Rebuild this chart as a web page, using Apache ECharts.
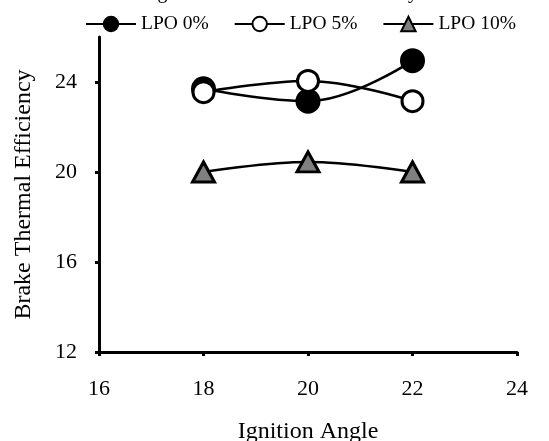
<!DOCTYPE html>
<html>
<head>
<meta charset="utf-8">
<script src="https://cdn.jsdelivr.net/npm/echarts@6/dist/echarts.min.js"></script>
<style>
  html, body { margin: 0; padding: 0; background: #fff; }
  #main { width: 549px; height: 441px; }
</style>
</head>
<body>
<div id="main"></div>
<script>
// 点火角 (x轴)
var angles = [18, 20, 22];
// 各系列数值
var lpo0 = [23.7, 23.15, 24.95];
var lpo5 = [23.55, 24.05, 23.15];
var lpo10 = [20.0, 20.45, 20.0];
var seriesNames = ['LPO 0%', 'LPO 5%', 'LPO 10%'];
var yTicks = [12, 16, 20, 24];

var font = '"Liberation Serif", "Times New Roman", serif';

function pairs(vals) {
  return angles.map(function (a, i) { return [a, vals[i]]; });
}

var myChart = echarts.init(document.getElementById('main'));

myChart.setOption({
  animation: false,
  title: { //上方被裁掉的标题，只露出下沿
    text: 'Angle vs Brake Thermal Efficiency',
    left: 128,
    top: -22,
    textStyle: { fontFamily: font, fontSize: 20, fontWeight: 'normal', color: '#000' }
  },
  legend: {
    top: 9,
    left: 80,
    itemWidth: 50,
    itemHeight: 18,
    itemGap: 25,
    data: seriesNames,
    textStyle: { fontFamily: font, fontSize: 19.5, color: '#000' }
  },
  grid: { left: 99, right: 32, top: 37, bottom: 89, outerBoundsMode: 'none' },
  xAxis: {
    type: 'value',
    min: 16,
    max: 24,
    interval: 2,
    name: 'Ignition Angle',
    nameLocation: 'middle',
    nameGap: 68,
    nameTextStyle: { fontFamily: font, fontSize: 24, color: '#000' },
    axisLine: { lineStyle: { color: '#000', width: 3 } },
    axisTick: { show: true, inside: false, length: 4, lineStyle: { color: '#000', width: 3 } },
    axisLabel: { fontFamily: font, fontSize: 22, color: '#000', margin: 26 },
    splitLine: { show: false }
  },
  yAxis: {
    type: 'value',
    min: 12,
    max: 26,
    interval: 4,
    name: 'Brake Thermal Efficiency',
    nameLocation: 'middle',
    nameRotate: 90,
    nameGap: 63,
    nameTextStyle: { fontFamily: font, fontSize: 24, color: '#000' },
    axisLine: { lineStyle: { color: '#000', width: 3 } },
    axisTick: { show: true, length: 4, customValues: yTicks, lineStyle: { color: '#000', width: 3 } },
    axisLabel: { fontFamily: font, fontSize: 22, color: '#000', margin: 22, customValues: yTicks },
    splitLine: { show: false }
  },
  series: [
    {
      name: seriesNames[0],
      type: 'line',
      smooth: 0.4,
      data: pairs(lpo0),
      symbol: 'circle',
      symbolSize: 23,
      lineStyle: { color: '#000', width: 2.5 },
      itemStyle: { color: '#000', borderColor: '#000', borderWidth: 2 }
    },
    {
      name: seriesNames[1],
      type: 'line',
      smooth: 0.4,
      data: pairs(lpo5),
      symbol: 'circle',
      symbolSize: 21,
      lineStyle: { color: '#000', width: 2.5 },
      itemStyle: { color: '#fff', borderColor: '#000', borderWidth: 3 }
    },
    {
      name: seriesNames[2],
      type: 'line',
      smooth: 0.4,
      data: pairs(lpo10),
      symbol: 'triangle',
      symbolSize: [22, 20],
      lineStyle: { color: '#000', width: 2.5 },
      itemStyle: { color: '#808080', borderColor: '#000', borderWidth: 3 }
    }
  ]
});
</script>
</body>
</html>
